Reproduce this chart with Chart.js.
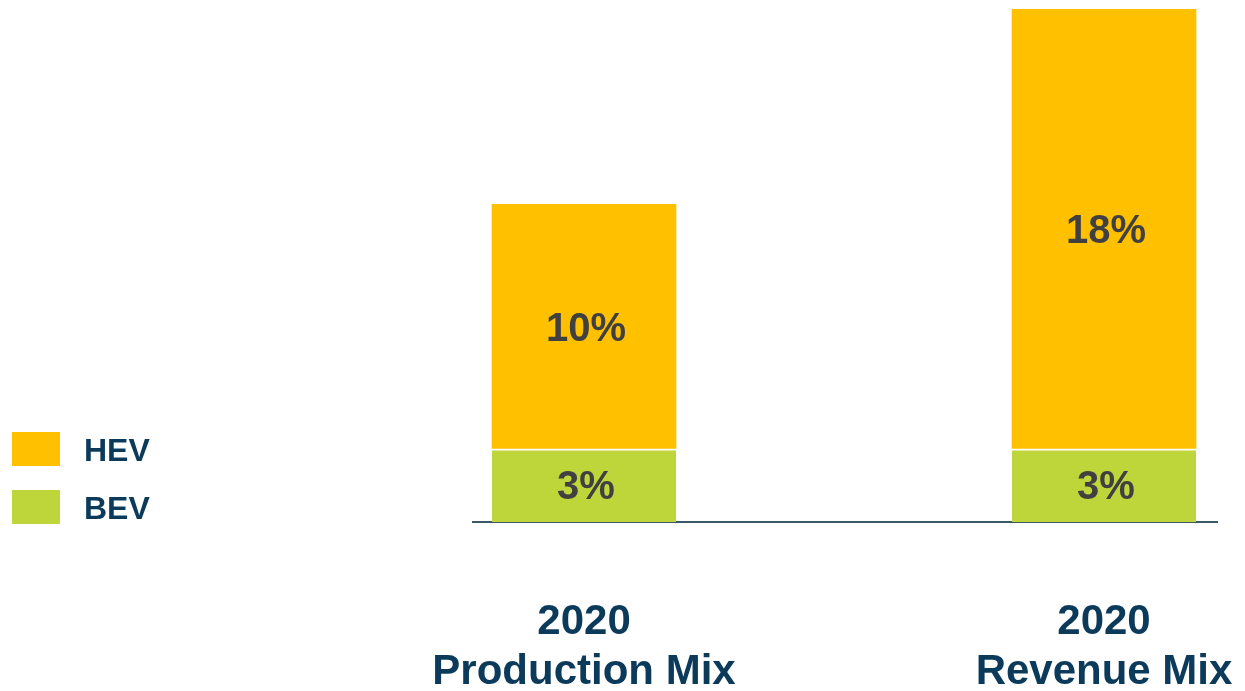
<!DOCTYPE html>
<html>
<head>
<meta charset="utf-8">
<script src="https://cdn.jsdelivr.net/npm/chart.js@4/dist/chart.umd.min.js"></script>
<style>
  html, body { margin: 0; padding: 0; background: #fff; }
  #wrap { position: relative; width: 1245px; height: 691px; }
  canvas { position: absolute; left: 0; top: 0; }
  .lg { position: absolute; left: 12px; width: 48px; height: 34px; }
  .lt { position: absolute; left: 84px; font: bold 32px "Liberation Sans", Arial, sans-serif; color: #0B3A5B; line-height: 34px; }
</style>
</head>
<body>
<div id="wrap">
  <canvas id="c" width="1245" height="691"></canvas>
  <div class="lg" style="top:432px;background:#FFC000"></div>
  <div class="lt" style="top:433px">HEV</div>
  <div class="lg" style="top:490px;background:#BFD63A"></div>
  <div class="lt" style="top:491px">BEV</div>
</div>
<script>
const categories = [["2020", "Production Mix"], ["2020", "Revenue Mix"]];
const seriesNames = ["BEV", "HEV"];
const bevValues = [3, 3];
const hevValues = [10, 18];
const yMax = 21;

const toPoints = arr => arr.map((v, i) => ({ x: i, y: v }));

const barLabels = {
  id: 'barLabels',
  afterDatasetsDraw(chart) {
    const ctx = chart.ctx;
    ctx.save();
    ctx.font = 'bold 40px "Liberation Sans", Arial, sans-serif';
    ctx.fillStyle = '#404040';
    ctx.textAlign = 'center';
    ctx.textBaseline = 'middle';
    chart.data.datasets.forEach((ds, di) => {
      const meta = chart.getDatasetMeta(di);
      meta.data.forEach((el, i) => {
        const p = el.getProps(['x', 'y', 'base'], true);
        ctx.fillText(ds.data[i].y + '%', p.x + 2, (p.y + p.base) / 2 + 3);
      });
    });
    ctx.restore();
  }
};

new Chart(document.getElementById('c'), {
  type: 'bar',
  data: {
    datasets: [
      {
        label: seriesNames[0],
        data: toPoints(bevValues),
        backgroundColor: '#BFD63A',
        borderColor: '#FFFFFF',
        borderWidth: { top: 2, left: 0, right: 0, bottom: 0 },
        borderSkipped: 'start',
        barThickness: 184
      },
      {
        label: seriesNames[1],
        data: toPoints(hevValues),
        backgroundColor: '#FFC000',
        borderWidth: 0,
        barThickness: 184
      }
    ]
  },
  options: {
    responsive: false,
    animation: false,
    layout: { padding: { left: 473, right: 28, top: 9, bottom: 0 } },
    plugins: { legend: { display: false }, tooltip: { enabled: false } },
    scales: {
      x: {
        type: 'linear',
        stacked: true,
        min: -0.2135,
        max: 1.2173,
        offset: false,
        grid: { display: false, drawTicks: false },
        border: { display: true, color: '#3A5868', width: 2 },
        afterBuildTicks: s => { s.ticks = categories.map((_, i) => ({ value: i })); },
        afterFit: s => { s.height = 169; s.paddingLeft = 0; s.paddingRight = 0; },
        ticks: {
          autoSkip: false,
          maxRotation: 0,
          padding: 75,
          color: '#0B3A5B',
          font: { family: '"Liberation Sans", Arial, sans-serif', size: 42, weight: 'bold', lineHeight: 1.19 },
          callback: v => categories[v]
        }
      },
      y: {
        stacked: true,
        display: false,
        min: 0,
        max: yMax
      }
    }
  },
  plugins: [barLabels]
});
</script>
</body>
</html>
